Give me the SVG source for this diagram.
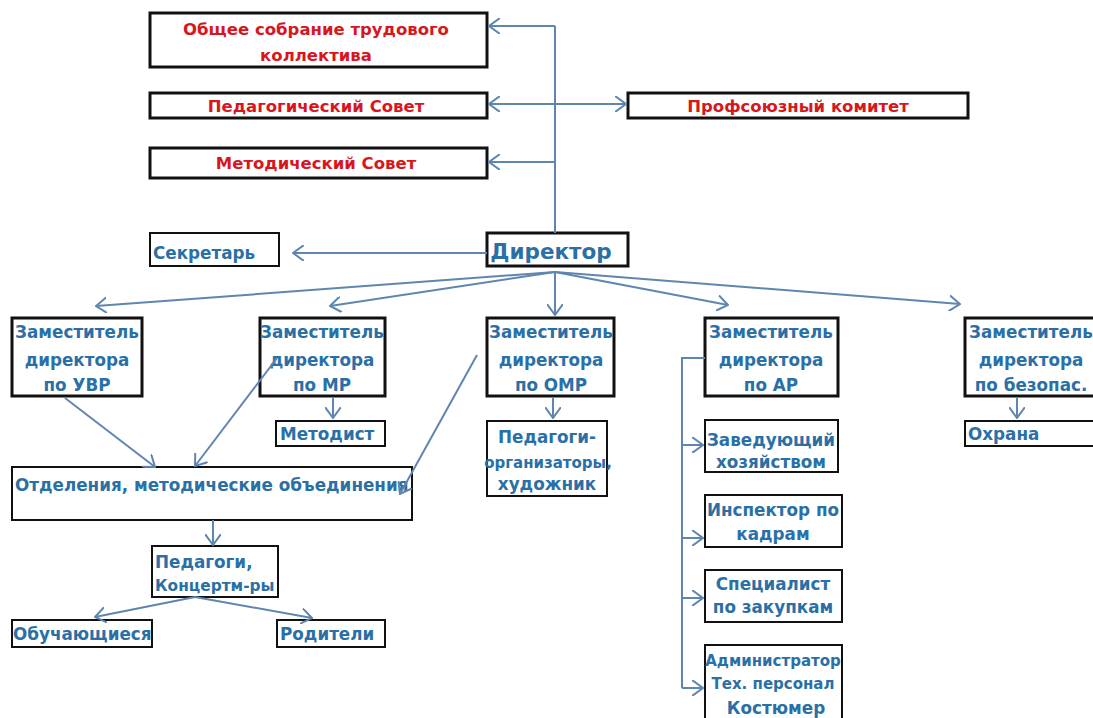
<svg xmlns="http://www.w3.org/2000/svg" width="1093" height="718" viewBox="0 0 1093 718">
<style>
.bx{fill:#fff;stroke:#111;stroke-width:3}
.tb{fill:#fff;stroke:#111;stroke-width:2}
.r{fill:#d8161d;font-family:"DejaVu Sans",sans-serif;font-weight:bold;font-size:16.5px;text-anchor:middle}
.b{fill:#2a70a6;font-family:"DejaVu Sans",sans-serif;font-weight:bold;font-size:16.8px;text-anchor:middle}
.bl{fill:#2a70a6;font-family:"DejaVu Sans",sans-serif;font-weight:bold;font-size:16.8px}
.c{fill:none;stroke:#5f86b0;stroke-width:2}
</style>
<defs>
<marker id="a" viewBox="0 0 12 16" refX="11" refY="8" markerWidth="12" markerHeight="16" markerUnits="userSpaceOnUse" orient="auto">
<path d="M0,0 L11,8 L0,16" fill="none" stroke="#5f86b0" stroke-width="2"/>
</marker>
</defs>
<rect width="1093" height="718" fill="#fff"/>
<g id="n-sobranie"><rect class="bx" x="150" y="13" width="337" height="54"/>
<text class="r" x="316" y="35">Общее  собрание трудового</text><text class="r" x="316" y="61">коллектива</text></g>
<g id="n-pedsovet"><rect class="bx" x="150" y="93" width="337" height="25"/>
<text class="r" x="316" y="112">Педагогический Совет</text></g>
<g id="n-metsovet"><rect class="bx" x="150" y="148" width="337" height="30"/>
<text class="r" x="316" y="169">Методический Совет</text></g>
<g id="n-profkom"><rect class="bx" x="628" y="93" width="340" height="25"/>
<text class="r" x="798" y="112">Профсоюзный комитет</text></g>
<g id="n-director"><rect class="bx" x="487" y="233" width="141" height="33"/>
<text class="b" x="551" y="259" style="font-size:21.5px">Директор</text></g>
<g id="n-secretar"><rect class="tb" x="150" y="233" width="129" height="33"/>
<text class="bl" x="153" y="259">Секретарь</text></g>
<g id="n-uvr"><rect class="bx" x="12" y="318" width="130" height="78"/>
<text class="b" x="77" y="338">Заместитель</text><text class="b" x="77" y="366">директора</text><text class="b" x="77" y="391">по УВР</text></g>
<g id="n-mr"><rect class="bx" x="260" y="318" width="125" height="78"/>
<text class="b" x="322" y="338">Заместитель</text><text class="b" x="322" y="366">директора</text><text class="b" x="322" y="391">по МР</text></g>
<g id="n-omr"><rect class="bx" x="487" y="318" width="127" height="78"/>
<text class="b" x="551" y="338">Заместитель</text><text class="b" x="551" y="366">директора</text><text class="b" x="551" y="391">по ОМР</text></g>
<g id="n-ar"><rect class="bx" x="705" y="318" width="133" height="78"/>
<text class="b" x="771" y="338">Заместитель</text><text class="b" x="771" y="366">директора</text><text class="b" x="771" y="391">по АР</text></g>
<g id="n-bez"><rect class="bx" x="965" y="318" width="130" height="78"/>
<text class="b" x="1031" y="338">Заместитель</text><text class="b" x="1031" y="366">директора</text><text class="b" x="1031" y="391">по безопас.</text></g>
<g id="n-metodist"><rect class="tb" x="276" y="421" width="109" height="25"/>
<text class="bl" x="280" y="440">Методист</text></g>
<g id="n-pedorg"><rect class="tb" x="487" y="421" width="120" height="75"/>
<text class="b" x="547" y="443">Педагоги-</text><text class="b" x="548" y="468" style="font-size:15px">организаторы,</text><text class="b" x="547" y="490">художник</text></g>
<g id="n-otdel"><rect class="tb" x="12" y="467" width="400" height="53"/>
<text class="bl" x="15" y="491">Отделения, методические объединения</text></g>
<g id="n-pedagogi"><rect class="tb" x="152" y="546" width="126" height="51"/>
<text class="bl" x="155" y="568">Педагоги,</text><text class="bl" x="155" y="591" style="font-size:15.4px">Концертм-ры</text></g>
<g id="n-obuch"><rect class="tb" x="12" y="620" width="140" height="27"/>
<text class="bl" x="13" y="640">Обучающиеся</text></g>
<g id="n-roditeli"><rect class="tb" x="277" y="620" width="108" height="27"/>
<text class="bl" x="280" y="640">Родители</text></g>
<g id="n-zavhoz"><rect class="tb" x="705" y="420" width="133" height="52"/>
<text class="b" x="771" y="446">Заведующий</text><text class="b" x="771" y="468">хозяйством</text></g>
<g id="n-kadry"><rect class="tb" x="705" y="495" width="137" height="52"/>
<text class="b" x="773" y="516">Инспектор по</text><text class="b" x="773" y="540">кадрам</text></g>
<g id="n-zakupki"><rect class="tb" x="705" y="570" width="137" height="52"/>
<text class="b" x="773" y="590">Специалист</text><text class="b" x="773" y="613">по закупкам</text></g>
<g id="n-admin"><rect class="tb" x="705" y="645" width="137" height="80"/>
<text class="b" x="773" y="666" style="font-size:15px">Администратор</text><text class="b" x="773" y="689" style="font-size:15px">Тех. персонал</text><text class="b" x="776" y="714">Костюмер</text></g>
<g id="n-ohrana"><rect class="tb" x="965" y="421" width="130" height="25"/>
<text class="bl" x="968" y="440">Охрана</text></g>
<g id="connectors">
<path class="c" d="M555,26 V233"/>
<path class="c" d="M555,26 H489" marker-end="url(#a)"/>
<path class="c" d="M555,104 H489" marker-end="url(#a)"/>
<path class="c" d="M555,104 H626" marker-end="url(#a)"/>
<path class="c" d="M555,162 H489" marker-end="url(#a)"/>
<path class="c" d="M487,253 H293" marker-end="url(#a)"/>
<path class="c" d="M555,272 L96,306" marker-end="url(#a)"/>
<path class="c" d="M555,272 L330,306" marker-end="url(#a)"/>
<path class="c" d="M555,272 V315" marker-end="url(#a)"/>
<path class="c" d="M555,272 L728,305" marker-end="url(#a)"/>
<path class="c" d="M555,272 L960,304" marker-end="url(#a)"/>
<path class="c" d="M65,398 L155,467" marker-end="url(#a)"/>
<path class="c" d="M277,358 L195,466" marker-end="url(#a)"/>
<path class="c" d="M477,355 L400,494" marker-end="url(#a)"/>
<path class="c" d="M333,398 V418" marker-end="url(#a)"/>
<path class="c" d="M553,398 V418" marker-end="url(#a)"/>
<path class="c" d="M1017,398 V418" marker-end="url(#a)"/>
<path class="c" d="M213,520 V545" marker-end="url(#a)"/>
<path class="c" d="M195,597 L95,617" marker-end="url(#a)"/>
<path class="c" d="M195,597 L312,618" marker-end="url(#a)"/>
<path class="c" d="M705,358 H682 V688"/>
<path class="c" d="M682,445 H703" marker-end="url(#a)"/>
<path class="c" d="M682,538 H703" marker-end="url(#a)"/>
<path class="c" d="M682,598 H703" marker-end="url(#a)"/>
<path class="c" d="M682,688 H703" marker-end="url(#a)"/>
</g>
</svg>
